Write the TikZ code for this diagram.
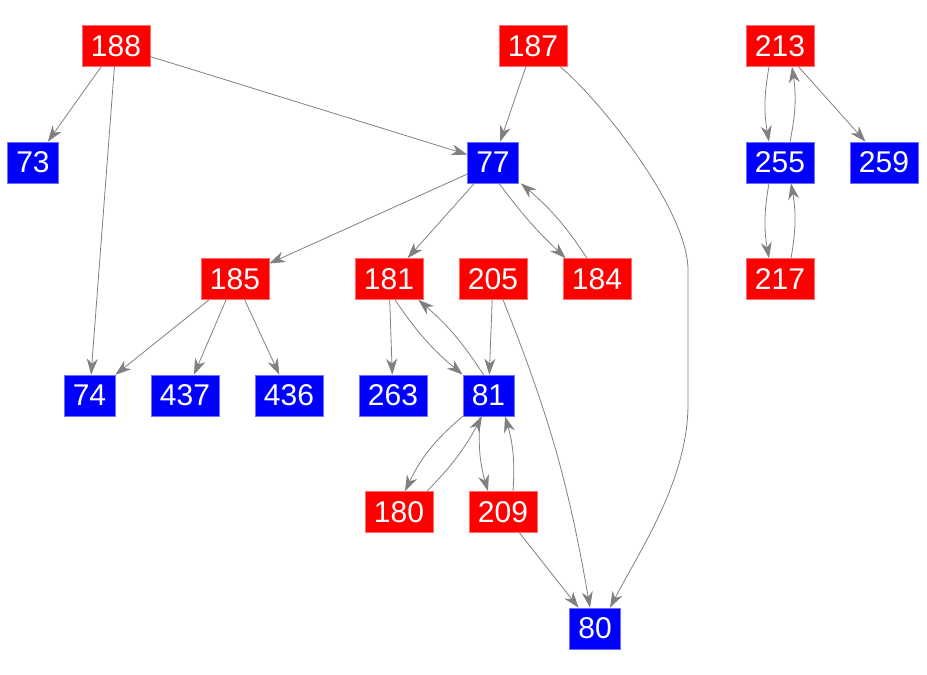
\documentclass[tikz,border=0pt]{standalone}
\usepackage{fontspec}
\setmainfont{Liberation Sans}
\usetikzlibrary{arrows.meta}
\definecolor{edgegray}{RGB}{128,128,128}
\definecolor{rfill}{RGB}{255,0,0}
\definecolor{bfill}{RGB}{0,0,255}
\definecolor{rline}{RGB}{255,110,110}
\definecolor{bline}{RGB}{110,110,255}
\begin{document}
\begin{tikzpicture}[x=1pt,y=1pt,
  box/.style={inner sep=0pt, minimum height=41pt, minimum width=68pt, text=white,
    font=\fontsize{30}{30}\selectfont, line width=0.6pt},
  rbox/.style={box, fill=rfill, draw=rline},
  bbox/.style={box, fill=bfill, draw=bline},
  narrow/.style={minimum width=51pt},
  edge/.style={draw=edgegray, line width=0.8pt,
    -{Stealth[length=16pt,width=11pt,inset=5pt,fill=edgegray]}}]
\useasboundingbox (0,0) rectangle (927,675);
% nodes
\node[rbox] (n188) at (116,629) {188};
\node[rbox] (n187) at (533,629) {187};
\node[rbox] (n213) at (780,629) {213};
\node[bbox,narrow] (n73) at (33,512.5) {73};
\node[bbox,narrow] (n77) at (493,512.5) {77};
\node[bbox] (n255) at (780,512.5) {255};
\node[bbox] (n259) at (884,512.5) {259};
\node[rbox] (n185) at (235,396) {185};
\node[rbox] (n181) at (389,396) {181};
\node[rbox] (n205) at (493,396) {205};
\node[rbox] (n184) at (597,396) {184};
\node[rbox] (n217) at (780,396) {217};
\node[bbox,narrow] (n74) at (89.5,279.5) {74};
\node[bbox] (n437) at (185,279.5) {437};
\node[bbox] (n436) at (289,279.5) {436};
\node[bbox] (n263) at (393,279.5) {263};
\node[bbox,narrow] (n81) at (488.5,279.5) {81};
\node[rbox] (n180) at (399,163) {180};
\node[rbox] (n209) at (503,163) {209};
\node[bbox,narrow] (n80) at (595,46.5) {80};
\coordinate (r1) at (688,405);
\coordinate (r2) at (688,271);
% straight edges
\draw[edge] (n188) -- (n73);
\draw[edge] (n188) -- (n77);
\draw[edge] (n188) -- (n74);
\draw[edge] (n187) -- (n77);
\draw[edge] (n213) -- (n259);
\draw[edge] (n77) -- (n185);
\draw[edge] (n77) -- (n181);
\draw[edge] (n185) -- (n74);
\draw[edge] (n185) -- (n437);
\draw[edge] (n185) -- (n436);
\draw[edge] (n181) -- (n263);
\draw[edge] (n205) -- (n81);
\draw[edge] (n209) -- (n80);
% curved edges
\draw[edge] ([xshift=-7pt]n187.south east) .. controls (600,575) and (688,465) .. (r1) -- (r2)
  .. controls (688,195) and (640,125) .. ([xshift=15pt]n80.north);
\draw[edge] ([xshift=10pt]n205.south) to[bend left=6] ([xshift=-5pt]n80.north);
\draw[edge] ([xshift=-11pt]n213.south) to[bend right=10] ([xshift=-11pt]n255.north);
\draw[edge] ([xshift=10pt]n255.north) to[bend right=10] ([xshift=12pt]n213.south);
\draw[edge] ([xshift=-11pt]n255.south) to[bend right=10] ([xshift=-11pt]n217.north);
\draw[edge] ([xshift=11pt]n217.north) to[bend right=10] ([xshift=11pt]n255.south);
\draw[edge] ([xshift=6pt]n77.south) to[bend right=5] ([xshift=3pt]n184.north west);
\draw[edge] ([xshift=-10pt]n184.north) to[bend right=8] ([xshift=2pt]n77.south east);
\draw[edge] ([xshift=6pt]n181.south) to[bend right=8] (n81.north west);
\draw[edge] ([xshift=-5pt]n81.north) to[bend right=8] ([xshift=-5pt]n181.south east);
\draw[edge] (n81.south west) to[bend right=12] ([xshift=6pt]n180.north);
\draw[edge] ([xshift=28pt]n180.north) to[bend right=8] ([xshift=-6.5pt]n81.south);
\draw[edge] ([xshift=-8.5pt]n81.south) to[bend right=10] ([xshift=-15pt]n209.north);
\draw[edge] ([xshift=10pt]n209.north) to[bend right=10] ([xshift=16.5pt]n81.south);
\end{tikzpicture}
\end{document}
